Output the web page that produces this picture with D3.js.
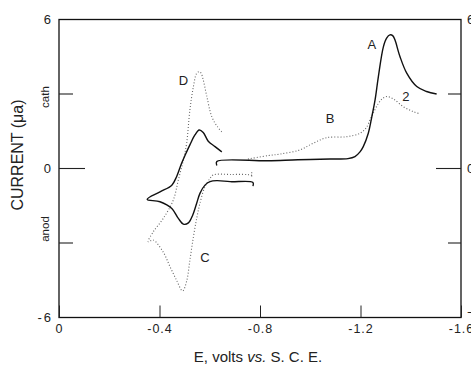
<!DOCTYPE html>
<html>
<head>
<meta charset="utf-8">
<script src="https://cdn.jsdelivr.net/npm/d3@7"></script>
<style>
  html, body { margin: 0; padding: 0; background: #fff; }
  svg { display: block; }
  text { font-family: "Liberation Sans", Arial, sans-serif; fill: #222; }
</style>
</head>
<body>
<svg id="chart" width="471" height="367"></svg>
<script>
// Ticks / labels
const xTicks = [0, -0.4, -0.8, -1.2, -1.6];
const xTickLabels = ['0', '-0.4', '-0.8', '-1.2', '-1.6'];
const yLabelTicks = [6, 0, -6];
const yInnerTicks = [3, 0, -3];

// Solid cyclic scan (small reversible couple), [E volts, current µa]
const solidLoop = [
  [-0.772, -0.71], [-0.772, -0.56], [-0.681, -0.53], [-0.628, -0.49], [-0.601, -0.53],
  [-0.581, -0.67], [-0.561, -1.00], [-0.548, -1.40], [-0.532, -1.88], [-0.515, -2.19],
  [-0.495, -2.24], [-0.475, -2.01], [-0.449, -1.61], [-0.402, -1.34], [-0.351, -1.24],
  [-0.402, -0.94], [-0.449, -0.67], [-0.468, -0.33], [-0.488, 0.21], [-0.508, 0.67],
  [-0.521, 0.95], [-0.541, 1.35], [-0.558, 1.55], [-0.574, 1.45], [-0.594, 1.10],
  [-0.621, 0.88], [-0.648, 0.67]
];

// Solid curve A
const solidA = [
  [-0.628, 0.12], [-0.628, 0.28], [-0.832, 0.31], [-0.951, 0.35], [-1.079, 0.38],
  [-1.150, 0.40], [-1.178, 0.48], [-1.198, 0.67], [-1.211, 0.88], [-1.231, 1.42],
  [-1.245, 2.08], [-1.258, 2.76], [-1.271, 3.69], [-1.291, 4.90], [-1.304, 5.25],
  [-1.317, 5.38], [-1.329, 5.34], [-1.337, 5.18], [-1.357, 4.51], [-1.384, 3.84],
  [-1.424, 3.30], [-1.463, 3.10], [-1.503, 3.00]
];

// Dotted curve B / 2
const dottedB = [
  [-0.752, 0.38], [-0.832, 0.52], [-0.880, 0.58], [-0.959, 0.75], [-1.012, 1.02],
  [-1.065, 1.24], [-1.145, 1.28], [-1.198, 1.42], [-1.222, 1.63], [-1.238, 1.96],
  [-1.251, 2.24], [-1.270, 2.60], [-1.286, 2.80], [-1.304, 2.90], [-1.331, 2.80],
  [-1.370, 2.49], [-1.410, 2.29], [-1.437, 2.20]
];

// Dotted cyclic scan (peaks D and C)
const dottedLoop = [
  [-0.648, 1.48], [-0.630, 1.69], [-0.608, 2.09], [-0.588, 2.92], [-0.574, 3.57],
  [-0.565, 3.85], [-0.557, 3.90], [-0.547, 3.81], [-0.535, 3.30], [-0.521, 2.36],
  [-0.508, 1.02], [-0.495, 0.34], [-0.475, -0.46], [-0.455, -1.27], [-0.415, -2.01],
  [-0.375, -2.55], [-0.355, -2.95], [-0.375, -2.88], [-0.415, -3.37], [-0.442, -3.96],
  [-0.468, -4.50], [-0.492, -4.93], [-0.508, -4.54], [-0.521, -3.69], [-0.535, -2.75],
  [-0.548, -2.01], [-0.561, -1.40], [-0.581, -0.73], [-0.601, -0.40], [-0.614, -0.26],
  [-0.681, -0.24], [-0.767, -0.28], [-0.767, -0.34], [-0.767, -0.14]
];

// Curve letters
const curveLabels = [
  { text: 'D', e: -0.495, i: 3.55 },
  { text: 'C', e: -0.581, i: -3.6 },
  { text: 'B', e: -1.079, i: 2.02 },
  { text: 'A', e: -1.245, i: 4.98 },
  { text: '2', e: -1.381, i: 2.88 }
];

const svg = d3.select('#chart');

const x = d3.scaleLinear().domain([0, -1.6]).range([59, 461]);
const y = d3.scaleLinear().domain([-6, 6]).range([317.5, 19.5]);

// Frame
svg.append('rect')
  .attr('x', x(0)).attr('y', y(6))
  .attr('width', x(-1.6) - x(0)).attr('height', y(-6) - y(6))
  .attr('fill', 'none').attr('stroke', '#111').attr('stroke-width', 1.3);

// Bottom axis: inward ticks + labels
const xAxis = svg.append('g')
  .attr('transform', `translate(0,${y(-6)})`)
  .call(d3.axisBottom(x)
    .tickValues(xTicks)
    .tickSize(-12)
    .tickPadding(4)
    .tickFormat((d, i) => xTickLabels[i]));
xAxis.select('.domain').remove();
xAxis.selectAll('line').attr('stroke', '#222');
xAxis.selectAll('text').style('font-size', '12.5px').style('letter-spacing', '1px')
  .attr('dy', '0.9em').attr('fill', '#222');

// Left axis labels
const yAxis = svg.append('g')
  .attr('transform', `translate(${x(0)},0)`)
  .call(d3.axisLeft(y).tickValues(yLabelTicks).tickSize(0).tickPadding(6).tickFormat(d3.format('d')));
yAxis.select('.domain').remove();
yAxis.selectAll('text').style('font-size', '13px').attr('fill', '#222')
  .text(d => d < 0 ? '-' + Math.abs(d) : d).style('letter-spacing', '2px');

// Right axis labels (mostly past the page edge, as in the scan)
const yAxisR = svg.append('g')
  .attr('transform', `translate(${x(-1.6)},0)`)
  .call(d3.axisRight(y).tickValues(yLabelTicks).tickSize(0).tickPadding(6).tickFormat(d3.format('d')));
yAxisR.select('.domain').remove();
yAxisR.selectAll('text').style('font-size', '13px').attr('fill', '#222')
  .attr('dy', d => d === -6 ? '-0.1em' : '0.32em');

// Inner ticks on left/right sides, the zero tick is longer
svg.append('g').selectAll('line.l')
  .data(yInnerTicks).enter().append('line')
  .attr('x1', x(0)).attr('x2', d => x(0) + (d === 0 ? 26 : 14))
  .attr('y1', d => y(d)).attr('y2', d => y(d))
  .attr('stroke', '#222').attr('stroke-width', 1.1);

svg.append('g').selectAll('line.r')
  .data(yInnerTicks).enter().append('line')
  .attr('x1', x(-1.6)).attr('x2', d => x(-1.6) - (d === 0 ? 25 : 13))
  .attr('y1', d => y(d)).attr('y2', d => y(d))
  .attr('stroke', '#222').attr('stroke-width', 1.1);

// Curves
const line = d3.line()
  .x(d => x(d[0]))
  .y(d => y(d[1]))
  .curve(d3.curveCatmullRom.alpha(0.5));

const plot = svg.append('g');

plot.append('path').datum(dottedLoop)
  .attr('d', line).attr('fill', 'none')
  .attr('stroke', '#666').attr('stroke-width', 1.1).attr('stroke-dasharray', '1,2');

plot.append('path').datum(dottedB)
  .attr('d', line).attr('fill', 'none')
  .attr('stroke', '#666').attr('stroke-width', 1.1).attr('stroke-dasharray', '1,2');

plot.append('path').datum(solidLoop)
  .attr('d', line).attr('fill', 'none')
  .attr('stroke', '#111').attr('stroke-width', 1.4);

plot.append('path').datum(solidA)
  .attr('d', line).attr('fill', 'none')
  .attr('stroke', '#111').attr('stroke-width', 1.4);

plot.selectAll('text.lbl')
  .data(curveLabels).enter().append('text')
  .attr('class', 'lbl')
  .attr('x', d => x(d.e)).attr('y', d => y(d.i))
  .attr('text-anchor', 'middle').attr('dominant-baseline', 'central')
  .style('font-size', '13px')
  .text(d => d.text);

// Axis titles
svg.append('text')
  .attr('transform', 'translate(23,155) rotate(-90)')
  .attr('text-anchor', 'middle')
  .style('font-size', '16px')
  .text('CURRENT (μa)');

svg.append('text')
  .attr('transform', 'translate(49,97) rotate(-90)')
  .attr('text-anchor', 'middle')
  .style('font-size', '11.5px')
  .text('cath');

svg.append('text')
  .attr('transform', 'translate(49,229) rotate(-90)')
  .attr('text-anchor', 'middle')
  .style('font-size', '11.5px')
  .text('anod');

const xTitle = svg.append('text')
  .attr('x', 258).attr('y', 362)
  .attr('text-anchor', 'middle')
  .style('font-size', '15px');
xTitle.append('tspan').text('E, volts ');
xTitle.append('tspan').style('font-style', 'italic').text('vs.');
xTitle.append('tspan').text(' S. C. E.');
</script>
</body>
</html>
